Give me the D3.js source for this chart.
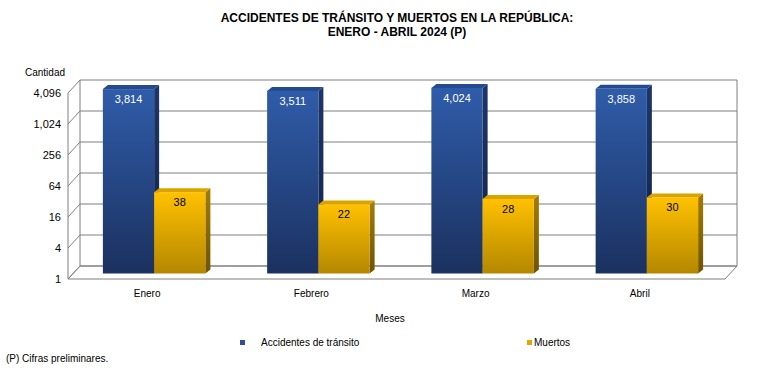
<!DOCTYPE html>
<html>
<head>
<meta charset="utf-8">
<script src="https://cdn.jsdelivr.net/npm/d3@7.9.0/dist/d3.min.js"></script>
<style>
  body { margin: 0; background: #fff; }
  svg { font-family: "Liberation Sans", Arial, sans-serif; }
  .grid { stroke: #7f7f7f; stroke-width: 1; fill: none; }
</style>
</head>
<body>
<div id="chart"></div>
<script>
const months = ["Enero", "Febrero", "Marzo", "Abril"];
const accidentes = [3814, 3511, 4024, 3858];
const muertos = [38, 22, 28, 30];
const tickValues = [1, 4, 16, 64, 256, 1024, 4096];
const seriesNames = ["Accidentes de tránsito", "Muertos"];

const W = 762, H = 378;
const svg = d3.select("#chart").append("svg")
  .attr("width", W).attr("height", H);

// 3D wall geometry: front plane vs back plane offset
const depth = { dx: 12, dy: 13 };
const front = { left: 68, right: 725 };
const y = d3.scaleLog().base(2).domain([1, 4096]).range([266, 80]); // back wall
const x = d3.scaleBand().domain(months).range([front.left, front.right]);

const defs = svg.append("defs");
function grad(id, top, bottom) {
  const g = defs.append("linearGradient").attr("id", id)
    .attr("x1", 0).attr("y1", 0).attr("x2", 0).attr("y2", 1);
  g.append("stop").attr("offset", "0%").attr("stop-color", top);
  g.append("stop").attr("offset", "100%").attr("stop-color", bottom);
}
grad("gBlue", "#2f5ca9", "#1b315f");
grad("gYel", "#ffc100", "#b48700");
grad("gBlueSide", "#1d3668", "#12224a");
grad("gYelSide", "#a57c00", "#6f5400");

// floor
const backL = front.left + depth.dx, backR = front.right + depth.dx;
svg.append("polygon").attr("class", "grid")
  .attr("points", [
    [front.left, y(1) + depth.dy], [backL, y(1)],
    [backR, y(1)], [front.right, y(1) + depth.dy]
  ].map(p => p.join(",")).join(" "));

// back wall grid + left wall slants
const grid = svg.append("g");
tickValues.forEach(v => {
  grid.append("line").attr("class", "grid")
    .attr("x1", backL).attr("x2", backR)
    .attr("y1", y(v)).attr("y2", y(v));
  grid.append("line").attr("class", "grid")
    .attr("x1", front.left).attr("x2", backL)
    .attr("y1", y(v) + depth.dy).attr("y2", y(v));
});
grid.append("line").attr("class", "grid")
  .attr("x1", backL).attr("x2", backL).attr("y1", y(4096)).attr("y2", y(1));
grid.append("line").attr("class", "grid")
  .attr("x1", backR).attr("x2", backR).attr("y1", y(4096)).attr("y2", y(1));
grid.append("line").attr("class", "grid")
  .attr("x1", front.left).attr("x2", front.left)
  .attr("y1", y(4096) + depth.dy).attr("y2", y(1) + depth.dy);

// y tick labels
const fmt = d3.format(",");
svg.append("g").selectAll("text")
  .data(tickValues).join("text")
  .attr("x", 61).attr("y", v => y(v) + depth.dy + 4)
  .attr("text-anchor", "end").attr("font-size", 11).attr("fill", "#000")
  .text(v => fmt(v));

svg.append("text").attr("x", 25).attr("y", 76)
  .attr("font-size", 10).text("Cantidad");

// bars (sitting at mid depth)
const barW = x.bandwidth() * 0.312;
const midDx = 4, midDy = 7.5;
const bd = { dx: 5, dy: 4 };
const base = y(1) + midDy;

const bars = [];
months.forEach((m, i) => {
  const cx = x(m) + x.bandwidth() / 2 + midDx;
  bars.push({ x0: cx - barW, v: accidentes[i], s: 0 });
  bars.push({ x0: cx, v: muertos[i], s: 1 });
});

const bg = svg.append("g");
bars.forEach(b => {
  const top = y(b.v) + midDy;
  const x1 = b.x0 + barW;
  // side
  bg.append("polygon")
    .attr("fill", b.s === 0 ? "url(#gBlueSide)" : "url(#gYelSide)")
    .attr("points", [[x1, top], [x1 + bd.dx, top - bd.dy], [x1 + bd.dx, base - bd.dy], [x1, base]]
      .map(p => p.join(",")).join(" "));
  // top
  bg.append("polygon")
    .attr("fill", b.s === 0 ? "#244a8f" : "#d9a300")
    .attr("points", [[b.x0, top], [b.x0 + bd.dx, top - bd.dy], [x1 + bd.dx, top - bd.dy], [x1, top]]
      .map(p => p.join(",")).join(" "));
  // front
  bg.append("rect")
    .attr("x", b.x0).attr("y", top).attr("width", barW).attr("height", base - top)
    .attr("fill", b.s === 0 ? "url(#gBlue)" : "url(#gYel)");
  bg.append("text")
    .attr("x", b.x0 + barW / 2).attr("y", top + 14)
    .attr("text-anchor", "middle").attr("font-size", 11)
    .attr("fill", b.s === 0 ? "#fff" : "#000")
    .text(fmt(b.v));
});

// category labels
svg.append("g").selectAll("text")
  .data(months).join("text")
  .attr("x", m => x(m) + x.bandwidth() / 2 - 3).attr("y", 297)
  .attr("text-anchor", "middle").attr("font-size", 10).text(m => m);

svg.append("text").attr("x", 390).attr("y", 322)
  .attr("text-anchor", "middle").attr("font-size", 10).text("Meses");

// title
svg.append("text").attr("x", 397).attr("y", 22)
  .attr("text-anchor", "middle").attr("font-size", 12).attr("font-weight", "bold")
  .text("ACCIDENTES DE TRÁNSITO Y MUERTOS EN LA REPÚBLICA:");
svg.append("text").attr("x", 397).attr("y", 36)
  .attr("text-anchor", "middle").attr("font-size", 12).attr("font-weight", "bold")
  .text("ENERO - ABRIL 2024 (P)");

// legend
const legend = [
  { name: seriesNames[0], color: "#2a4f94", sx: 240, tx: 261 },
  { name: seriesNames[1], color: "#e0a800", sx: 527, tx: 534 }
];
legend.forEach(l => {
  svg.append("rect").attr("x", l.sx).attr("y", 340).attr("width", 5).attr("height", 5)
    .attr("fill", l.color);
  svg.append("text").attr("x", l.tx).attr("y", 346).attr("font-size", 10).text(l.name);
});

svg.append("text").attr("x", 6).attr("y", 362).attr("font-size", 10)
  .text("(P) Cifras preliminares.");
</script>
</body>
</html>
